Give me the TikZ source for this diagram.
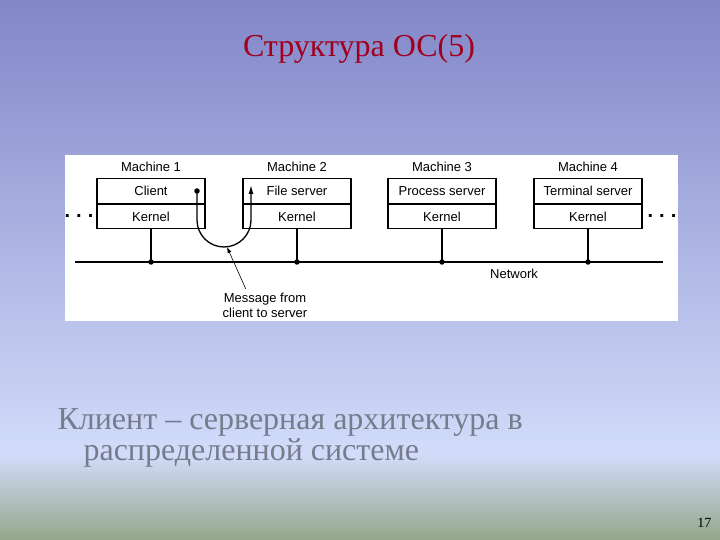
\documentclass[tikz,border=0pt]{standalone}
\usepackage{fontspec}
\setmainfont{Liberation Serif}
\newfontfamily\diagfont{Liberation Sans}
\usetikzlibrary{arrows.meta,positioning}

\definecolor{slidetop}{RGB}{130,134,200}
\definecolor{slidemid}{RGB}{210,220,250}
\definecolor{slidebot}{RGB}{148,166,138}
\definecolor{titlered}{RGB}{160,0,30}
\definecolor{captiongray}{RGB}{118,124,140}

\begin{document}
\begin{tikzpicture}[
    x=1pt, y=1pt,
    line width=1.1pt,
    layer/.style={draw, rectangle, fill=white, minimum width=108pt, minimum height=24.5pt, inner sep=0pt, font=\diagfont\fontsize{13}{15}\selectfont},
    label/.style={font=\diagfont\fontsize{13}{15}\selectfont},
    junction/.style={circle, fill, inner sep=0pt, minimum size=5.5pt},
    ellipsis/.style={font=\diagfont\bfseries\fontsize{20}{22}\selectfont},
    caption/.style={anchor=base west, inner sep=0pt, text=captiongray, font=\fontsize{32}{36}\selectfont}
]
    \useasboundingbox (0,0) rectangle (720,540);

    % --- Slide background ---
    \shade[top color=slidetop, bottom color=slidemid] (0,85) rectangle (720,540);
    \shade[top color=slidemid, bottom color=slidebot] (0,0) rectangle (720,85.5);
    \fill[white] (65,219) rectangle (678,385);

    \node[anchor=base, text=titlered, font=\fontsize{32}{36}\selectfont] (title) at (359,483) {Структура ОС(5)};

    % --- Machines ---
    \node[label] (m1) at (151,373) {Machine 1};
    \node[label] (m2) at (297,373) {Machine 2};
    \node[label] (m3) at (442,373) {Machine 3};
    \node[label] (m4) at (588,373) {Machine 4};

    \node[layer] (srv1) at (151,349) {Client};
    \node[layer] (srv2) at (297,349) {File server};
    \node[layer] (srv3) at (442,349) {Process server};
    \node[layer] (srv4) at (588,349) {Terminal server};

    \node[layer, below=0pt of srv1] (ker1) {Kernel};
    \node[layer, below=0pt of srv2] (ker2) {Kernel};
    \node[layer, below=0pt of srv3] (ker3) {Kernel};
    \node[layer, below=0pt of srv4] (ker4) {Kernel};

    \node[ellipsis] (dotsL) at (79,324) {.\hspace{6pt}.\hspace{6pt}.};
    \node[ellipsis] (dotsR) at (662,324) {.\hspace{6pt}.\hspace{6pt}.};

    % --- Network ---
    \coordinate (netL) at (75,278);
    \coordinate (netR) at (663,278);
    \draw (netL) -- (netR);
    \node[label] (net) at (514,266) {Network};

    \node[junction] (j1) at (ker1.south |- netL) {};
    \node[junction] (j2) at (ker2.south |- netL) {};
    \node[junction] (j3) at (ker3.south |- netL) {};
    \node[junction] (j4) at (ker4.south |- netL) {};
    \draw (ker1.south) -- (j1.center);
    \draw (ker2.south) -- (j2.center);
    \draw (ker3.south) -- (j3.center);
    \draw (ker4.south) -- (j4.center);

    % Message from client to server
    \node[junction] (msgsrc) at (197,349) {};
    \coordinate (msgdst) at (251,355);
    \draw[-{Latex[length=9pt,width=5pt]}, line width=1.3pt] (msgsrc.center) -- ++(0,-29) arc[start angle=180, end angle=360, radius=27] -- (msgdst);

    \node[label, align=center] (msg) at (265,235) {Message from\\client to server};
    \coordinate (msgbot) at (227,293);
    \draw[-{Latex[length=6pt,width=4pt]}, line width=0.6pt] (msg.140) -- (msgbot);

    % --- Caption ---
    \node[caption] (cap1) at (57,110) {Клиент – серверная архитектура в};
    \node[caption] (cap2) at (83,79) {распределенной системе};
    \node[anchor=base east, inner sep=0pt, font=\fontsize{14}{16}\selectfont] (pagenum) at (712,12) {17};

\end{tikzpicture}
\end{document}
